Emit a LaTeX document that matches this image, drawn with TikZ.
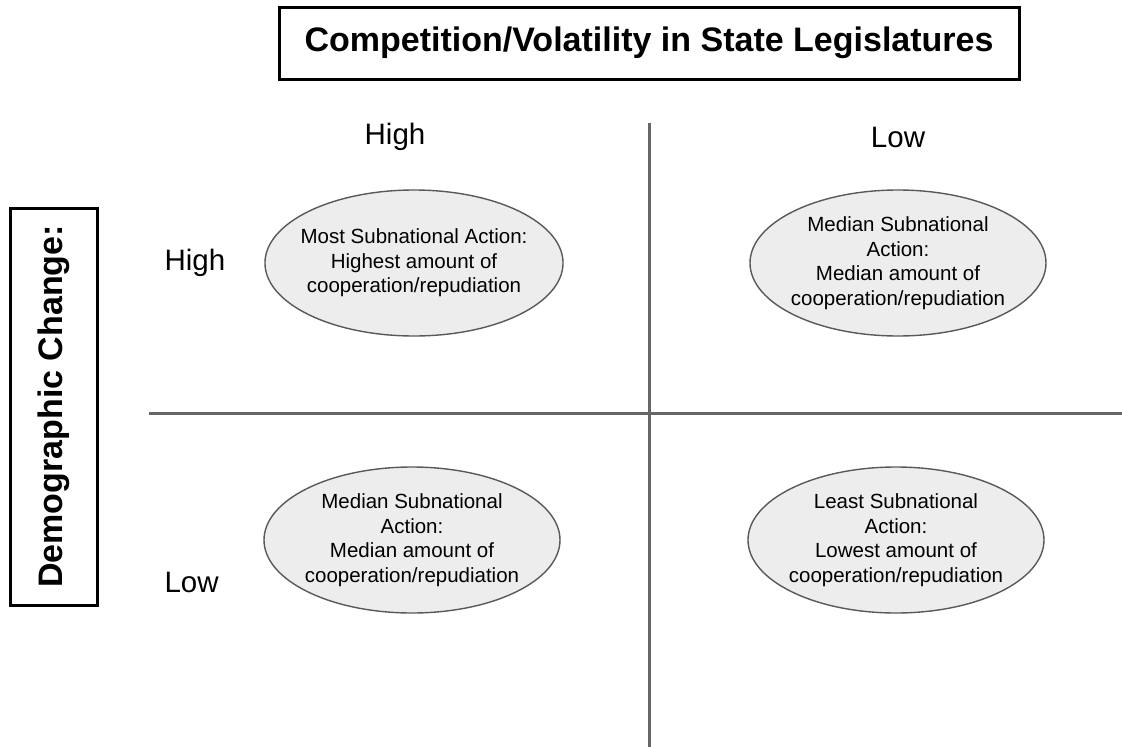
\documentclass[tikz,border=0pt]{standalone}
\usepackage{fontspec}
\setmainfont{Liberation Sans}
\usetikzlibrary{shapes.geometric}

\begin{document}
\begin{tikzpicture}[x=1pt,y=-1pt,
  heading/.style={draw=black,line width=3pt,inner sep=0pt,font=\fontsize{34}{37}\selectfont\bfseries},
  level/.style={font=\fontsize{29.5}{32}\selectfont},
  axis/.style={draw=black!60,line width=3pt},
  cell/.style={ellipse,draw=black!65,line width=1.4pt,fill=black!7,inner xsep=-8pt,inner ysep=0pt,
    minimum width=296,minimum height=146,align=center,font=\fontsize{20.5}{24.5}\selectfont}]
\useasboundingbox (0,0) rectangle (1122,747);
% headings
\node[heading,minimum width=740,minimum height=72] (title) at (649,43) {Competition/Volatility in State Legislatures};
\node[heading,rotate=90,minimum width=397,minimum height=87] (side) at (53.5,406.5) {Demographic Change:};
% quadrant lines
\coordinate (vtop) at (649,123);
\coordinate (vbot) at (649,747);
\coordinate (hleft) at (149,413);
\coordinate (hright) at (1122,413);
\draw[axis] (vtop) -- (vbot);
\draw[axis] (hleft) -- (hright);
% column and row levels
\node[level] (colhigh) at (395,137) {High};
\node[level] (collow) at (898,137) {Low};
\node[level,anchor=west] (rowhigh) at (161,263) {High};
\node[level,anchor=west] (rowlow) at (161,582) {Low};
% quadrants
\node[cell] (hh) at (414,263) {Most Subnational Action:\\Highest amount of\\cooperation/repudiation};
\node[cell] (hl) at (898,263) {Median Subnational\\Action:\\Median amount of\\cooperation/repudiation};
\node[cell] (lh) at (412,540) {Median Subnational\\Action:\\Median amount of\\cooperation/repudiation};
\node[cell] (ll) at (896,540) {Least Subnational\\Action:\\Lowest amount of\\cooperation/repudiation};
\end{tikzpicture}
\end{document}
